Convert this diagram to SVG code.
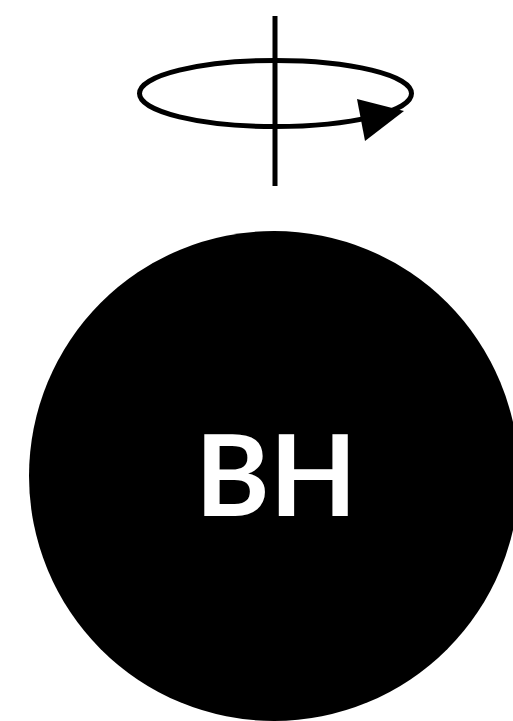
<svg xmlns="http://www.w3.org/2000/svg" width="513" height="721" viewBox="0 0 513 721">
<style>
.stroke{fill:none;stroke:#000;stroke-width:5}
.label{font-family:"Lato","Open Sans",sans-serif;font-weight:bold;fill:#fff;text-anchor:middle}
</style>
<rect width="513" height="721" fill="#fff"/>
<g id="spin">
<ellipse class="stroke" cx="275.5" cy="93.5" rx="136" ry="33"/>
<line class="stroke" x1="275" y1="16" x2="275" y2="186"/>
<polygon points="357,99 404,111 365,141" fill="#000"/>
</g>
<g id="bh">
<circle cx="274" cy="476" r="245" fill="#000"/>
<text class="label" x="276" y="516" font-size="113">BH</text>
</g>
<g id="connectors"></g>
</svg>
